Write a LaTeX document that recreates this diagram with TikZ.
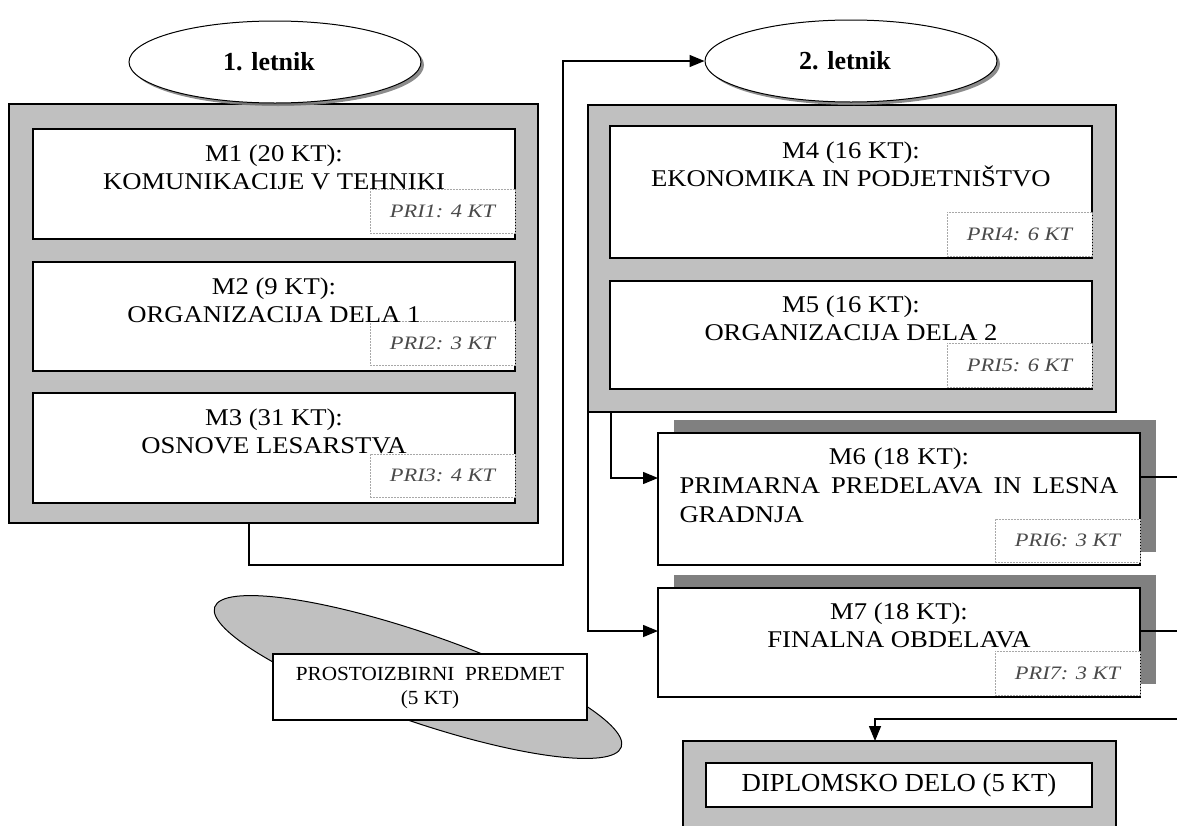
\documentclass[tikz,border=0pt]{standalone}
\usepackage{fontspec}
\setmainfont{Liberation Serif}
\newfontfamily\widefont[FakeStretch=1.11]{Liberation Serif}
\newfontfamily\prifont[FakeStretch=1.18]{Liberation Serif}
\newfontfamily\dfont[FakeStretch=1.03]{Liberation Serif}
\newfontfamily\pfont[FakeStretch=1.06]{Liberation Serif}
\usetikzlibrary{arrows.meta,shadows,shapes.geometric}
\definecolor{framegray}{HTML}{C0C0C0}
\definecolor{shadowgray}{HTML}{808080}
\definecolor{pritext}{HTML}{4A4A4A}
\definecolor{pridash}{HTML}{A8A8A8}
\begin{document}
\begin{tikzpicture}[x=1pt,y=-1pt,
  frame/.style={draw=black, line width=1.3pt, fill=framegray, rectangle, inner sep=0pt, outer sep=0pt, anchor=north west},
  mbox/.style={draw=black, line width=1.8pt, fill=white, rectangle, inner sep=0pt, outer sep=0pt, anchor=north west},
  pribox/.style={draw=pridash, dash pattern=on 2pt off 1pt, line width=0.7pt, fill=white, rectangle, anchor=north west, inner sep=0pt, outer sep=0pt, minimum width=145pt, minimum height=44pt, font=\prifont\fontsize{19}{22}\selectfont\itshape, text=pritext},
  mtext/.style={anchor=north, align=center, inner sep=0pt, font=\widefont\fontsize{24}{28}\selectfont},
  year/.style={ellipse, draw=black, line width=1pt, fill=white, inner sep=0pt, minimum width=292pt, minimum height=82pt, font=\fontsize{26}{30}\selectfont\bfseries, drop shadow={shadow xshift=3pt, shadow yshift=-3pt, fill=shadowgray, opacity=0.9}},
  conn/.style={line width=1.4pt},
  arr/.style={conn, -{Triangle[length=15pt,width=12pt]}},
  mshadow/.style={general shadow={fill=shadowgray, shadow xshift=16pt, shadow yshift=13pt}}
]
\useasboundingbox (0,0) rectangle (1177,825);
\clip (0,0) rectangle (1177,825);

% ---------- year 1 ----------
\node[frame, minimum width=529pt, minimum height=419pt] (F1) at (9,104) {};
\node[year] (Y1) at (275,62) {\hspace*{-12pt}1. letnik};

\node[mbox, minimum width=482pt, minimum height=110pt] (M1) at (33,129) {};
\node[mbox, minimum width=482pt, minimum height=109pt] (M2) at (33,262) {};
\node[mbox, minimum width=482pt, minimum height=110pt] (M3) at (33,393) {};
\node[pribox] (P1) at (370,189) {PRI1: 4 KT};
\node[pribox] (P2) at (370,321) {PRI2: 3 KT};
\node[pribox, minimum height=43pt] (P3) at (370,454) {PRI3: 4 KT};
\node[mtext] (M1t) at ([yshift=-16pt]M1.north) {M1 (20 KT):\\KOMUNIKACIJE V TEHNIKI};
\node[mtext] (M2t) at ([yshift=-16pt]M2.north) {M2 (9 KT):\\ORGANIZACIJA DELA 1};
\node[mtext] (M3t) at ([yshift=-16pt]M3.north) {M3 (31 KT):\\OSNOVE LESARSTVA};

% ---------- year 2 ----------
\node[frame, minimum width=528pt, minimum height=307pt] (F2) at (588,105) {};
\node[year] (Y2) at (851,61) {\hspace*{-12pt}2. letnik};

\node[mbox, minimum width=482pt, minimum height=132pt] (M4) at (610,126) {};
\node[mbox, minimum width=482pt, minimum height=108pt] (M5) at (610,281) {};
\node[pribox] (P4) at (947,212) {PRI4: 6 KT};
\node[pribox] (P5) at (947,343) {PRI5: 6 KT};
\node[mtext] (M4t) at ([yshift=-16pt]M4.north) {M4 (16 KT):\\EKONOMIKA IN PODJETNIŠTVO};
\node[mtext] (M5t) at ([yshift=-15pt]M5.north) {M5 (16 KT):\\ORGANIZACIJA DELA 2};

\node[mbox, mshadow, minimum width=482pt, minimum height=132pt] (M6) at (658,433) {};
\node[mbox, mshadow, minimum width=482pt, minimum height=109pt] (M7) at (658,588) {};
\node[pribox, minimum height=43pt] (P6) at (995,519) {PRI6: 3 KT};
\node[pribox] (P7) at (995,651) {PRI7: 3 KT};
\node[mtext, text width=439pt, align=left, font=\widefont\fontsize{24}{29}\selectfont] (M6t) at ([yshift=-15pt]M6.north)
  {\makebox[439pt][c]{M6 (18 KT):}\\\makebox[439pt][l]{PRIMARNA\hfill PREDELAVA\hfill IN\hfill LESNA}\\GRADNJA};
\node[mtext] (M7t) at ([yshift=-15pt]M7.north) {M7 (18 KT):\\FINALNA OBDELAVA};

% ---------- elective ----------
\draw[fill=framegray, line width=1pt, rotate around={-19:(418,677)}] (418,677) ellipse [x radius=215pt, y radius=44pt];
\node[mbox, line width=1.3pt, minimum width=314pt, minimum height=66pt] (PR) at (273,654) {};
\node[align=center, inner sep=0pt, font=\pfont\fontsize{20}{24}\selectfont] (PRt) at ([yshift=-1pt]PR.center) {PROSTOIZBIRNI\ \ PREDMET\\(5 KT)};

% ---------- thesis ----------
\node[frame, minimum width=433pt, minimum height=110pt] (F3) at (683,741) {};
\node[mbox, minimum width=386pt, minimum height=44pt, font=\dfont\fontsize{26}{30}\selectfont] (DD) at (706,763) {DIPLOMSKO DELO (5 KT)};

% ---------- connectors ----------
\coordinate (a1) at (249,565);
\coordinate (a2) at (563,565);
\draw[arr] (F1.south -| a1) -- (a1) -- (a2) |- (Y2.west);

\coordinate (b1) at (611,412);
\draw[arr] (b1) |- ([yshift=21pt]M6.west);
\draw[arr] (F2.south west) |- ([yshift=11.5pt]M7.west);

\coordinate (r6) at (1180,477);
\coordinate (r7) at (1180,631);
\coordinate (r8) at (1180,719);
\coordinate (k) at (875,741);
\draw[conn] (M6.east |- r6) -- (r6);
\draw[conn] (M7.east |- r7) -- (r7);
\draw[arr] (r8) -| (k);
\end{tikzpicture}
\end{document}
